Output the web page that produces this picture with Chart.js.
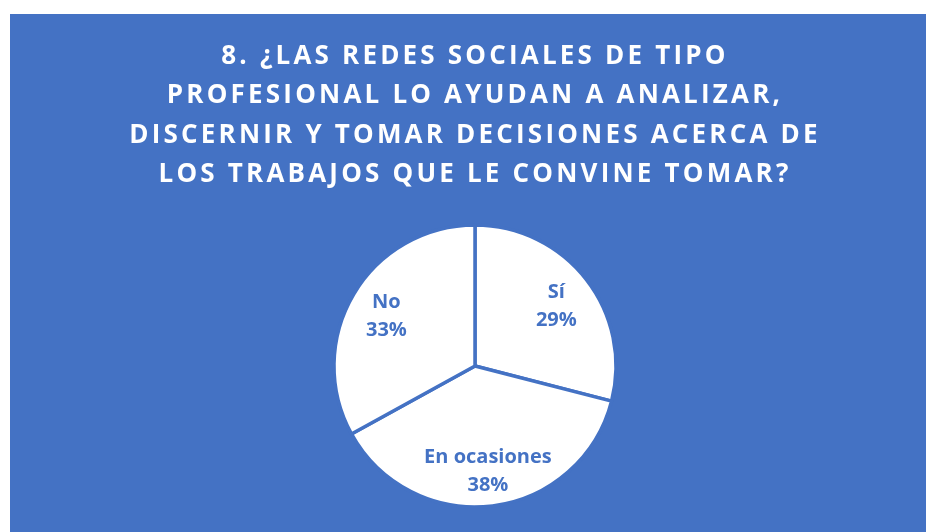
<!DOCTYPE html>
<html>
<head>
<meta charset="utf-8">
<script src="https://cdn.jsdelivr.net/npm/chart.js@4"></script>
<style>
    body { margin: 0; background: #ffffff; }
    #box { position: absolute; left: 10px; top: 14px; width: 916px; height: 518px; background: #4472C4; }
</style>
</head>
<body>
<div id="box"><canvas id="chart-1"></canvas></div>
<script>
const categories = ['Sí', 'En ocasiones', 'No'];
const percents = [29, 38, 33];
const titleLines = [
    '8. ¿LAS REDES SOCIALES DE TIPO',
    'PROFESIONAL LO AYUDAN A ANALIZAR,',
    'DISCERNIR Y TOMAR DECISIONES ACERCA DE',
    'LOS TRABAJOS QUE LE CONVINE TOMAR?'
];

const blue = '#4472C4';

// spaced title text, labels drawn without spacing
const spacing = {
    id: 'spacing',
    beforeDraw(chart) { chart.ctx.letterSpacing = '3.2px'; },
    beforeDatasetsDraw(chart) { chart.ctx.letterSpacing = '0px'; }
};

const sliceLabels = {
    id: 'sliceLabels',
    afterDatasetsDraw(chart) {
        const ctx = chart.ctx;
        const arcs = chart.getDatasetMeta(0).data;
        ctx.save();
        ctx.letterSpacing = '0px';
        ctx.fillStyle = blue;
        ctx.font = 'bold 20px "Open Sans"';
        ctx.textAlign = 'center';
        ctx.textBaseline = 'middle';
        arcs.forEach((arc, i) => {
            const p = arc.getProps(['x', 'y', 'startAngle', 'endAngle', 'outerRadius'], true);
            const mid = (p.startAngle + p.endAngle) / 2;
            const r = p.outerRadius * 0.73;
            const x = p.x + Math.cos(mid) * r;
            const y = p.y + Math.sin(mid) * r + 3;
            ctx.fillText(categories[i], x, y - 14);
            ctx.fillText(percents[i] + '%', x, y + 14);
        });
        ctx.restore();
    }
};

const ctx = document.getElementById('chart-1').getContext('2d');
const chart_1 = new Chart(ctx, {
    type: 'pie',
    data: {
        labels: categories,
        datasets: [{
            data: percents,
            backgroundColor: '#ffffff',
            borderColor: blue,
            borderWidth: 3.5,
            radius: 141
        }]
    },
    options: {
        responsive: true,
        maintainAspectRatio: false,
        animation: false,
        layout: { padding: { left: 14, bottom: 10 } },
        plugins: {
            legend: { display: false },
            tooltip: { enabled: false },
            title: {
                display: true,
                text: titleLines,
                color: '#ffffff',
                font: { family: 'Open Sans', size: 26, weight: 'bold', lineHeight: 1.52 },
                padding: { top: 22.5, bottom: 15.5 }
            }
        }
    },
    plugins: [spacing, sliceLabels]
});
</script>
</body>
</html>
